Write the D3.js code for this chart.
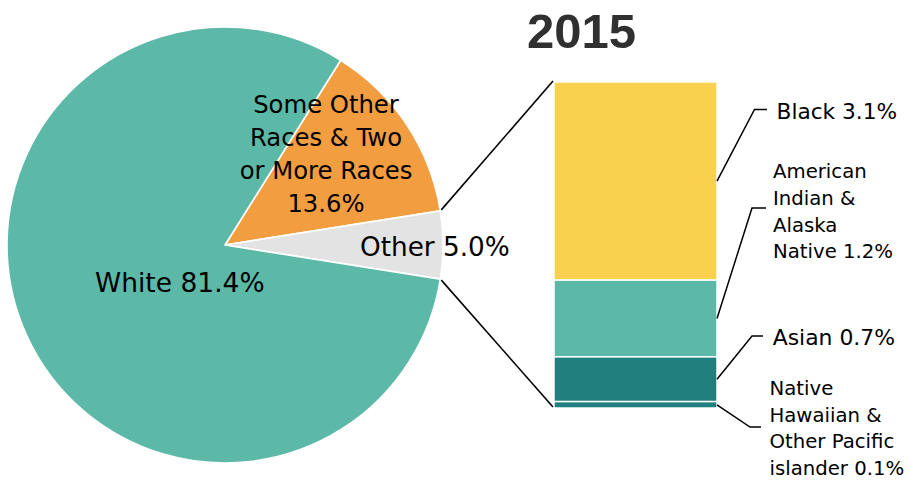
<!DOCTYPE html>
<html>
<head>
<meta charset="utf-8">
<script src="https://cdn.jsdelivr.net/npm/d3@7"></script>
<style>
  html, body { margin: 0; padding: 0; background: #ffffff; }
  svg { display: block; }
  text { font-family: "DejaVu Sans", sans-serif; fill: #000; }
</style>
</head>
<body>
<svg id="chart" width="910" height="482"></svg>
<script>
// ---- Data ----
const title = "2015";
const pieCategories = ["Some Other Races & Two or More Races", "Other", "White"];
const pieValues = [13.6, 5.0, 81.4];
const pieLabelLines = [["Some Other", "Races & Two", "or More Races"], ["Other"], ["White"]];
const barCategories = ["Black", "American Indian & Alaska Native", "Asian", "Native Hawaiian & Other Pacific islander"];
const barValues = [3.1, 1.2, 0.7, 0.1];
const barLabelLines = [["Black"], ["American", "Indian &", "Alaska", "Native"], ["Asian"], ["Native", "Hawaiian &", "Other Pacific", "islander"]];

// ---- Styles / layout ----
const pieColors = ["#f29d40", "#e3e3e3", "#5cb8a7"];
const barColors = ["#fad04f", "#5cb8a7", "#1f807e", "#1f807e"];
const pieCenter = [225, 245], pieRadius = 218;
const barX0 = 554, barX1 = 717, barTop = 82, barBottom = 408;

const pieLabelLayout = [
  { x: 326, y: 113.3, lh: 32.8, size: 24.3, anchor: "middle", valueOnNewLine: true },
  { x: 360, y: 255.7, lh: 0, size: 26.3, anchor: "start", valueOnNewLine: false },
  { x: 95, y: 292.3, lh: 0, size: 26.5, anchor: "start", valueOnNewLine: false }
];
const barLabelLayout = [
  { x: 776.5, y: 119, lh: 26.7, size: 21.7, elbow: [754.5, 109.5], end: 767 },
  { x: 773, y: 178.3, lh: 26.7, size: 19.7, elbow: [752, 208], end: 766 },
  { x: 772.7, y: 345, lh: 26.7, size: 21.9, elbow: [752, 336], end: 763 },
  { x: 769.5, y: 395, lh: 26.6, size: 19.7, elbow: [750, 427], end: 761 }
];

const svg = d3.select("#chart");
const fmt = v => v.toFixed(1) + "%";

// ---- Pie ----
const total = d3.sum(pieValues);
const startAngle = Math.PI / 2 - 2 * Math.PI * (pieValues[1] / 2 + pieValues[0]) / total;
const pie = d3.pie().sort(null).value(d => d).startAngle(startAngle).endAngle(startAngle + 2 * Math.PI);
const arcs = pie(pieValues);
const arc = d3.arc().innerRadius(0).outerRadius(pieRadius);

const gPie = svg.append("g").attr("transform", `translate(${pieCenter[0]},${pieCenter[1]})`);
gPie.selectAll("path").data(arcs).join("path")
  .attr("d", arc)
  .attr("fill", (d, i) => pieColors[i])
  .attr("stroke", "#ffffff")
  .attr("stroke-width", 1.6)
  .attr("stroke-linejoin", "round");

// ---- Bar (stacked, bottom-up from last category) ----
const barTotal = d3.sum(barValues);
const y = d3.scaleLinear().domain([0, barTotal]).range([barBottom, barTop]);
const x = d3.scaleBand().domain(["bar"]).range([barX0, barX1]).padding(0);
let cum = 0;
const stacked = barValues.map(() => null);
for (let i = barValues.length - 1; i >= 0; i--) {
  stacked[i] = { y0: cum, y1: cum + barValues[i] };
  cum += barValues[i];
}
svg.append("g").selectAll("rect").data(stacked).join("rect")
  .attr("x", x("bar"))
  .attr("width", x.bandwidth())
  .attr("y", d => y(d.y1))
  .attr("height", d => y(d.y0) - y(d.y1))
  .attr("fill", (d, i) => barColors[i])
  .attr("stroke", "#ffffff")
  .attr("stroke-width", 1.5);

// ---- Connector lines from pie "Other" slice to bar ----
const other = arcs[1];
const edgePt = a => [pieCenter[0] + pieRadius * Math.sin(a), pieCenter[1] - pieRadius * Math.cos(a)];
const p1 = edgePt(other.startAngle), p2 = edgePt(other.endAngle);
svg.append("line").attr("x1", p1[0] + 1).attr("y1", p1[1] - 1).attr("x2", x("bar") - 1).attr("y2", y(barTotal) - 1)
  .attr("stroke", "#000").attr("stroke-width", 1.6);
svg.append("line").attr("x1", p2[0] + 1).attr("y1", p2[1] + 1).attr("x2", x("bar") - 1).attr("y2", y(0) - 1)
  .attr("stroke", "#000").attr("stroke-width", 1.6);

// ---- Pie labels ----
pieLabelLines.forEach((lines, i) => {
  const L = pieLabelLayout[i];
  const t = svg.append("text")
    .attr("text-anchor", L.anchor)
    .style("font-size", L.size + "px");
  const all = L.valueOnNewLine ? [...lines, fmt(pieValues[i])] : [lines.join(" ") + " " + fmt(pieValues[i])];
  all.forEach((s, k) => {
    t.append("tspan").attr("x", L.x).attr("y", L.y + k * L.lh).text(s);
  });
});

// ---- Bar labels with leader lines ----
barLabelLines.forEach((lines, i) => {
  const L = barLabelLayout[i];
  const midY = y((stacked[i].y0 + stacked[i].y1) / 2);
  svg.append("polyline")
    .attr("points", [[barX1, midY], L.elbow, [L.end, L.elbow[1]]].map(p => p.join(",")).join(" "))
    .attr("fill", "none").attr("stroke", "#000").attr("stroke-width", 1.5);
  const t = svg.append("text").style("font-size", L.size + "px");
  lines.forEach((s, k) => {
    const txt = k === lines.length - 1 ? s + " " + fmt(barValues[i]) : s;
    t.append("tspan").attr("x", L.x).attr("y", L.y + k * L.lh).text(txt);
  });
});

// ---- Title ----
svg.append("text")
  .attr("x", 581.5).attr("y", 48)
  .attr("text-anchor", "middle")
  .style("font-family", "'Liberation Sans', Arial, sans-serif")
  .style("font-weight", "bold")
  .style("font-size", "49px")
  .style("fill", "#303030")
  .text(title);
</script>
</body>
</html>
